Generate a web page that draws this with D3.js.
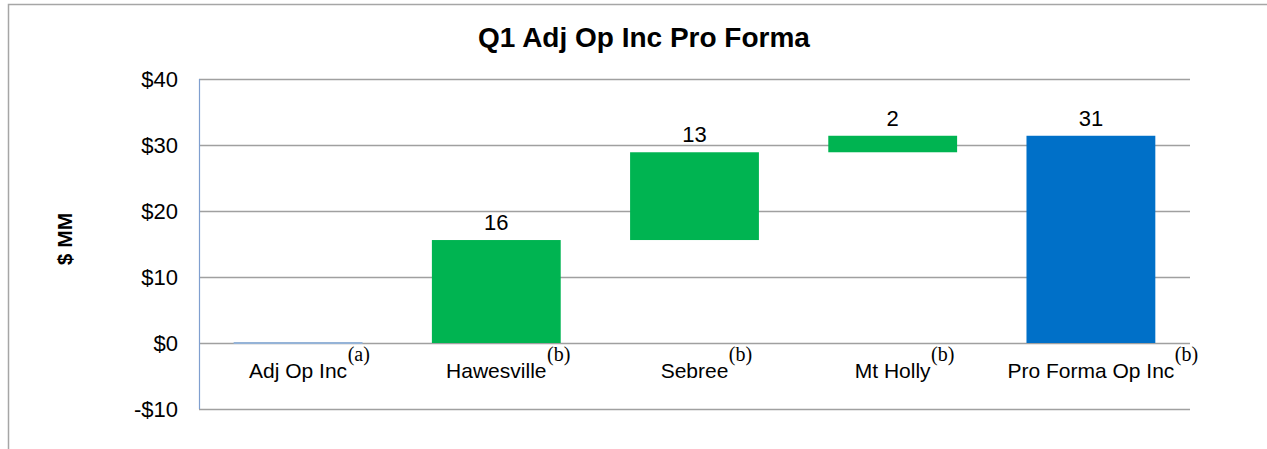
<!DOCTYPE html>
<html>
<head>
<meta charset="utf-8">
<script src="https://cdn.jsdelivr.net/npm/d3@7"></script>
<style>
    body { margin: 0; background: #fff; }
    text { font-family: Arial, "Liberation Sans", sans-serif; fill: #000; }
</style>
</head>
<body>
<svg></svg>
<script>
    // waterfall data
    var categories = ["Adj Op Inc", "Hawesville", "Sebree", "Mt Holly", "Pro Forma Op Inc"];
    var notes = ["(a)", "(b)", "(b)", "(b)", "(b)"];
    var starts = [0, 0, 15.6, 28.9, 0];
    var ends = [0, 15.6, 28.9, 31.4, 31.4];
    var valueLabels = ["", "16", "13", "2", "31"];
    var kinds = ["base", "step", "step", "step", "total"];
    var yTicks = [-10, 0, 10, 20, 30, 40];

    var width = 1267,
        height = 449;

    var svg = d3.select('svg')
        .attr('width', width)
        .attr('height', height);

    // outer frame (only top and left visible)
    svg.append('path')
        .attr('d', 'M8.5,' + height + 'V4.5H' + width)
        .attr('fill', 'none')
        .attr('stroke', '#a6a6a6')
        .attr('stroke-width', 1.5);

    var x = d3.scaleBand()
        .domain(categories)
        .range([199, 1190])
        .paddingInner(0.35)
        .paddingOuter(0.175);

    var y = d3.scaleLinear()
        .domain([-10, 40])
        .range([409, 79]);

    // gridlines
    svg.append('g')
        .selectAll('line')
        .data(yTicks).enter()
        .append('line')
        .attr('x1', 199)
        .attr('x2', 1190)
        .attr('y1', function (d) { return Math.round(y(d)) + 0.5; })
        .attr('y2', function (d) { return Math.round(y(d)) + 0.5; })
        .attr('stroke', '#a0a0a0')
        .attr('stroke-width', 1.3);

    // y axis labels
    var yAxis = d3.axisLeft(y)
        .tickValues(yTicks)
        .tickSize(0)
        .tickPadding(0)
        .tickFormat(function (d) { return (d < 0 ? '-$' : '$') + Math.abs(d); });

    var ax = svg.append('g')
        .attr('transform', 'translate(178,0)')
        .call(yAxis);
    ax.select('.domain').remove();
    ax.selectAll('text')
        .style('font-size', '22px')
        .style('font-family', 'Arial, "Liberation Sans", sans-serif')
        .attr('dy', '0.36em');

    svg.append('line')
        .attr('x1', 199.5).attr('x2', 199.5)
        .attr('y1', y(40)).attr('y2', y(-10))
        .attr('stroke', '#7f9fcf')
        .attr('stroke-width', 1.2);

    // bars
    function barColor(k) {
        if (k == 'total') return '#0070c8';
        if (k == 'step') return '#00b451';
        return '#95b3d7';
    }

    var idx = d3.range(categories.length);

    svg.append('g')
        .selectAll('rect')
        .data(idx).enter()
        .append('rect')
        .attr('x', function (i) { return x(categories[i]); })
        .attr('width', x.bandwidth())
        .attr('y', function (i) {
            var h = Math.abs(y(starts[i]) - y(ends[i]));
            return y(Math.max(starts[i], ends[i])) - (h < 2 ? 1 : 0);
        })
        .attr('height', function (i) { return Math.max(2, Math.abs(y(starts[i]) - y(ends[i]))); })
        .attr('fill', function (i) { return barColor(kinds[i]); });

    // value labels
    svg.append('g')
        .selectAll('text')
        .data(idx).enter()
        .append('text')
        .attr('x', function (i) { return x(categories[i]) + x.bandwidth() / 2; })
        .attr('y', function (i) { return y(Math.max(starts[i], ends[i])) - 10; })
        .attr('text-anchor', 'middle')
        .style('font-size', '22px')
        .text(function (i) { return valueLabels[i]; });

    // category labels with footnote marks
    var cat = svg.append('g')
        .selectAll('g')
        .data(idx).enter()
        .append('g')
        .attr('transform', function (i) {
            return 'translate(' + (x(categories[i]) + x.bandwidth() / 2) + ',378)';
        });

    cat.append('text')
        .attr('text-anchor', 'middle')
        .style('font-size', '21px')
        .text(function (i) { return categories[i]; })
        .each(function (i) {
            var w = this.getComputedTextLength();
            d3.select(this.parentNode).append('text')
                .attr('x', w / 2 + 0.5)
                .attr('y', -17)
                .style('font-family', '"Liberation Serif", "DejaVu Serif", serif')
                .style('font-size', '20px')
                .text(notes[i]);
        });

    // title
    svg.append('text')
        .attr('x', 644)
        .attr('y', 47)
        .attr('text-anchor', 'middle')
        .style('font-size', '28px')
        .style('font-weight', 'bold')
        .text('Q1 Adj Op Inc Pro Forma');

    // y axis title
    svg.append('text')
        .attr('transform', 'translate(72,239) rotate(-90)')
        .attr('text-anchor', 'middle')
        .style('font-size', '21px')
        .style('font-weight', 'bold')
        .text('$ MM');
</script>
</body>
</html>
